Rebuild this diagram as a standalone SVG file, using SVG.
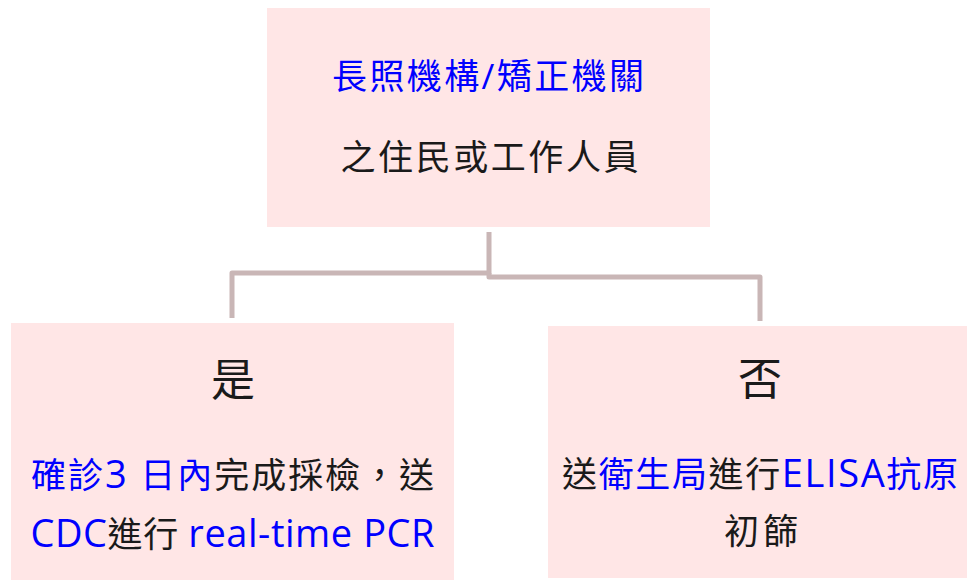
<svg xmlns="http://www.w3.org/2000/svg" width="967" height="582" viewBox="0 0 967 582">
<style>
.box{fill:#FFE6E6;}
.t{font-family:"Open Sans","Noto Sans CJK TC","Noto Sans CJK SC",sans-serif;font-size:35px;fill:#1a1a1a;text-anchor:middle;}
.big{font-size:44px;}
.b{fill:#0000FF;}
.l{font-size:38px;}
.conn{fill:none;stroke:#C9B6B6;stroke-width:5;stroke-linejoin:round;}
</style>
<rect width="967" height="582" fill="#ffffff"/>
<g id="connectors">
<polyline class="conn" points="489,232 489,273 232,273 232,318"/>
<polyline class="conn" points="489,273 489,277 760,277 760,321"/>
</g>
<g id="top">
<rect class="box" x="267" y="8" width="443" height="219"/>
<text class="t b" x="488" y="89" textLength="312" lengthAdjust="spacing">長照機構/矯正機關</text>
<text class="t" x="489.5" y="170" textLength="298" lengthAdjust="spacing">之住民或工作人員</text>
</g>
<g id="yes">
<rect class="box" x="11" y="323" width="443" height="257"/>
<text class="t big" x="233" y="396">是</text>
<text class="t" x="232.5" y="488" textLength="403" lengthAdjust="spacing"><tspan class="b">確診<tspan class="l">3 </tspan>日內</tspan>完成採檢，送</text>
<text class="t" x="232.5" y="547" textLength="404" lengthAdjust="spacing"><tspan class="b l">CDC</tspan>進行 <tspan class="b l">real-time PCR</tspan></text>
</g>
<g id="no">
<rect class="box" x="548" y="326" width="419" height="252"/>
<text class="t big" x="760" y="395">否</text>
<text class="t" x="760" y="487" textLength="396" lengthAdjust="spacing">送<tspan class="b">衛生局</tspan>進行<tspan class="b"><tspan class="l">ELISA</tspan>抗原</tspan></text>
<text class="t" x="761" y="544" textLength="74" lengthAdjust="spacing">初篩</text>
</g>
</svg>
